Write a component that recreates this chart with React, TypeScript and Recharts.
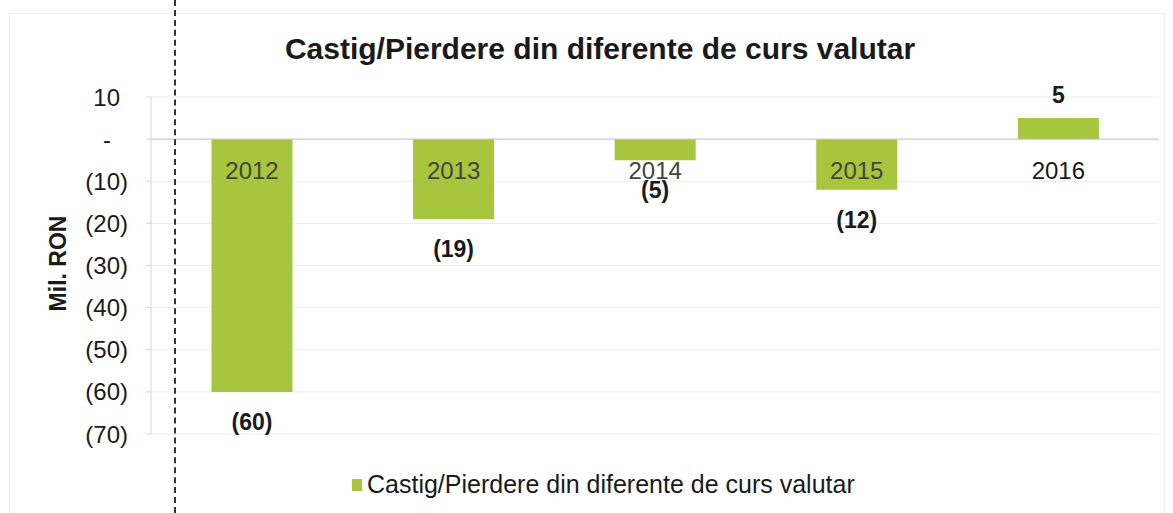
import React from 'react';
import { BarChart, Bar, XAxis, YAxis, CartesianGrid, Legend, LabelList, ReferenceLine } from 'recharts';

const years = ['2012', '2013', '2014', '2015', '2016'];
const values = [-60, -19, -5, -12, 5];
const yTicks = [10, 0, -10, -20, -30, -40, -50, -60, -70];
const seriesName = 'Castig/Pierdere din diferente de curs valutar';
const chartTitle = 'Castig/Pierdere din diferente de curs valutar';
const axisTitle = 'Mil. RON';

const data = years.map((year, i) => ({ year, value: values[i] }));

const FONT = '"Liberation Sans", Arial, sans-serif';
const GREEN = '#a7c53d';

const fmt = (v: number) => (v === 0 ? '-' : v < 0 ? `(${Math.abs(v)})` : `${v}`);

function YTick(props: any) {
  const { x, y, payload } = props;
  const v = payload.value as number;
  // keep the excel style padding: positives leave room for ")", zero dash sits further in
  const dx = v < 0 ? 0 : v === 0 ? -17 : -8;
  return (
    <text x={x + dx} y={y} textAnchor="end" dominantBaseline="central" fontSize={24} fill="#1a1a1a" fontFamily={FONT}>
      {fmt(v)}
    </text>
  );
}

function ValueLabel(props: any) {
  const { x, y, width, height, index } = props;
  const v = values[index];
  const top = Math.min(y, y + height);
  const bottom = Math.max(y, y + height);
  const cy = v < 0 ? bottom + 30 : top - 23;
  return (
    <text x={x + width / 2} y={cy} textAnchor="middle" dominantBaseline="central" fontSize={23} fontWeight="bold" fill="#1a1a1a" fontFamily={FONT}>
      {fmt(v)}
    </text>
  );
}

function YearLabel(props: any) {
  const { x, y, width, height, index } = props;
  const v = values[index];
  const zero = v < 0 ? Math.min(y, y + height) : Math.max(y, y + height);
  return (
    <text x={x + width / 2} y={zero + 31} textAnchor="middle" dominantBaseline="central" fontSize={24} fill={v < 0 ? '#444' : '#1a1a1a'} fontFamily={FONT}>
      {years[index]}
    </text>
  );
}

function AxisTitle(props: any) {
  const { viewBox } = props;
  const cx = 58;
  const cy = viewBox.y + viewBox.height / 2 - 2;
  return (
    <text x={cx} y={cy} transform={`rotate(-90 ${cx} ${cy})`} textAnchor="middle" dominantBaseline="central" fontSize={23} fontWeight="bold" fill="#1a1a1a" fontFamily={FONT}>
      {axisTitle}
    </text>
  );
}

function LegendContent() {
  return (
    <div style={{ display: 'flex', alignItems: 'center', fontFamily: FONT, fontSize: 25, color: '#1a1a1a', whiteSpace: 'nowrap' }}>
      <span style={{ display: 'inline-block', width: 10, height: 12, background: GREEN, marginRight: 5 }} />
      <span>{seriesName}</span>
    </div>
  );
}

export default function App() {
  return (
    <div style={{ position: 'absolute', left: 0, top: 0, width: 1173, height: 513, background: '#fff', overflow: 'hidden' }}>
      <div style={{ position: 'absolute', left: 9, top: 13, width: 1154, height: 520, border: '1px solid #eeeeee' }} />
      <div
        style={{
          position: 'absolute', left: 0, top: 32, width: 1200, textAlign: 'center',
          fontFamily: FONT, fontWeight: 'bold', fontSize: 30, color: '#1a1a1a',
        }}
      >
        {chartTitle}
      </div>
      <BarChart
        width={1173}
        height={513}
        data={data}
        margin={{ top: 97, right: 14, bottom: 79, left: 0 }}
        barCategoryGap="30%"
        style={{ position: 'absolute', left: 0, top: 0 }}
      >
        <CartesianGrid vertical={false} stroke="#ececec" />
        <XAxis dataKey="year" hide />
        <YAxis
          width={151}
          domain={[-70, 10]}
          ticks={yTicks}
          interval={0}
          tickSize={5}
          tickMargin={18}
          tick={<YTick />}
          stroke="#d4d4d4"
          label={<AxisTitle />}
        />
        <ReferenceLine y={0} stroke="#c4c4c4" />
        <Legend
          verticalAlign="middle"
          align="center"
          wrapperStyle={{ top: 470, left: 352, width: 'auto' }}
          content={<LegendContent />}
        />
        <Bar dataKey="value" name={seriesName} fill={GREEN} isAnimationActive={false}>
          <LabelList dataKey="value" content={<ValueLabel />} />
          <LabelList dataKey="year" content={<YearLabel />} />
        </Bar>
      </BarChart>
      <div style={{ position: 'absolute', left: 174, top: 0, width: 0, height: 513, borderLeft: '2px dashed #333' }} />
    </div>
  );
}
